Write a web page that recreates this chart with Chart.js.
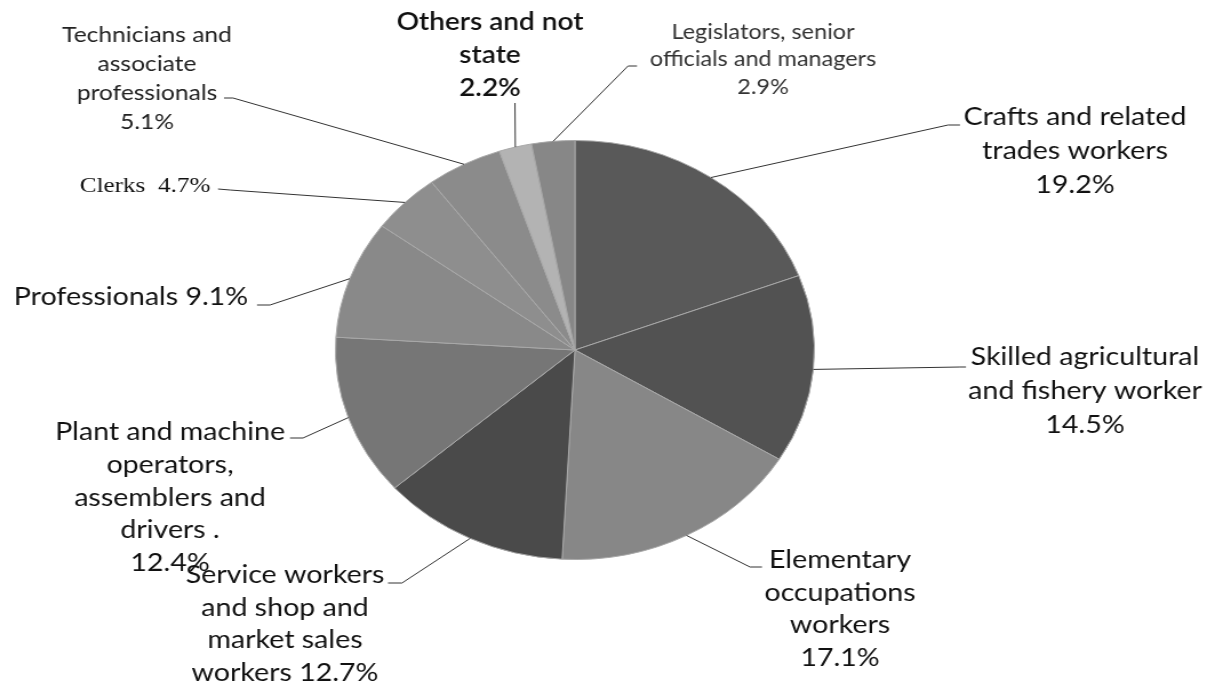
<!DOCTYPE html>
<html>
<head>
<meta charset="utf-8">
<script src="https://cdn.jsdelivr.net/npm/chart.js@4.4.0/dist/chart.umd.min.js"></script>
<style>
  html, body { margin: 0; padding: 0; background: #fff; overflow: hidden; }
  /* the original picture is stretched sideways, so the pie is an ellipse */
  #wrap { width: 1058px; height: 685px; transform: scaleX(1.143); transform-origin: 0 0; }
</style>
</head>
<body>
<div id="wrap"><canvas id="pie" width="1058" height="685"></canvas></div>
<script>
const categories = [
    'Crafts and related trades workers',
    'Skilled agricultural and fishery worker',
    'Elementary occupations workers',
    'Service workers and shop and market sales workers',
    'Plant and machine operators, assemblers and drivers',
    'Professionals',
    'Clerks',
    'Technicians and associate professionals',
    'Others and not state',
    'Legislators, senior officials and managers'
];
const shares = [19.2, 14.5, 17.1, 12.7, 12.4, 9.1, 4.7, 5.1, 2.2, 2.9];
const sliceColors = ['#595959', '#525252', '#878787', '#4a4a4a', '#767676',
                     '#898989', '#8e8e8e', '#8b8b8b', '#b3b3b3', '#878787'];

const STRETCH = 1.143;
const MAIN = '25px Lato';

// label boxes in page pixels ({v} = the share)
const labelLayout = [
    { lines: ['Crafts and related', 'trades workers', '{v}'], x: 1075, y: 117, lh: 34, font: MAIN, elbow: [948, 125], end: [960, 125] },
    { lines: ['Skilled agricultural', 'and fishery worker', '{v}'], x: 1085, y: 357, lh: 34, font: MAIN, elbow: [960, 367], end: [966, 367] },
    { lines: ['Elementary', 'occupations', 'workers', '{v}'], x: 840, y: 560, lh: 32.5, font: MAIN, elbow: [750, 567], end: [762, 567] },
    { lines: ['Service workers', 'and shop and', 'market sales', 'workers {v}'], x: 285, y: 575, lh: 32.5, font: MAIN, elbow: [402, 583], end: [388, 583] },
    { lines: ['Plant and machine', 'operators,', 'assemblers and', 'drivers .', '{v}'], x: 170, y: 432, lh: 32.8, font: MAIN, elbow: [303, 438], end: [290, 438] },
    { lines: ['Professionals {v}'], x: 131, y: 297, lh: 32, font: MAIN, elbow: [270, 305], end: [257, 305] },
    { lines: ['Clerks  {v}'], x: 145, y: 186, lh: 30, font: '22px "Liberation Serif"', elbow: [230, 190], end: [218, 189] },
    { lines: ['Technicians and', 'associate', 'professionals', '{v}'], x: 147, y: 35, lh: 29, font: '21.5px Lato', color: '#222', elbow: [233, 98], end: [224, 98] },
    { lines: ['Others and not', 'state', '{v}'], x: 490, y: 22, lh: 33, font: '600 24.5px Lato', elbow: [515, 104], end: [515, 103] },
    { lines: ['Legislators, senior', 'officials and managers', '{v}'], x: 763, y: 32, lh: 27.5, font: '20.5px Lato', color: '#333', elbow: [628, 66], end: [637, 66] }
];

// leader lines + text drawn from each arc's middle angle
const leaderLabels = {
    id: 'leaderLabels',
    afterDatasetsDraw(chart) {
        const ctx = chart.ctx;
        const arcs = chart.getDatasetMeta(0).data;
        arcs.forEach((arc, i) => {
            const L = labelLayout[i];
            const p = arc.getProps(['x', 'y', 'startAngle', 'endAngle', 'outerRadius'], true);
            const mid = (p.startAngle + p.endAngle) / 2;
            const ax = p.x + Math.cos(mid) * p.outerRadius;
            const ay = p.y + Math.sin(mid) * p.outerRadius;
            ctx.save();
            ctx.strokeStyle = '#333';
            ctx.lineWidth = 1;
            ctx.beginPath();
            ctx.moveTo(ax, ay);
            ctx.lineTo(L.elbow[0] / STRETCH, L.elbow[1]);
            ctx.lineTo(L.end[0] / STRETCH, L.end[1]);
            ctx.stroke();
            ctx.font = L.font;
            ctx.fillStyle = L.color || '#111';
            ctx.textAlign = 'center';
            ctx.textBaseline = 'middle';
            L.lines.forEach((t, k) => {
                ctx.fillText(t.replace('{v}', shares[i].toFixed(1) + '%'), L.x / STRETCH, L.y + k * L.lh);
            });
            ctx.restore();
        });
    }
};

document.addEventListener('DOMContentLoaded', function() {
    const pieCtx = document.getElementById('pie').getContext('2d');
    new Chart(pieCtx, {
        type: 'pie',
        data: {
            labels: categories,
            datasets: [{
                data: shares,
                backgroundColor: sliceColors,
                borderColor: '#a8a8a8',
                borderWidth: 1,
                hoverOffset: 0,
                offset: 0
            }]
        },
        options: {
            responsive: false,
            animation: false,
            devicePixelRatio: 1,
            layout: { padding: { top: 140, bottom: 125, left: 200, right: 252 } },
            plugins: {
                legend: { display: false },
                tooltip: { enabled: false }
            }
        },
        plugins: [leaderLabels]
    });
});
</script>
</body>
</html>
